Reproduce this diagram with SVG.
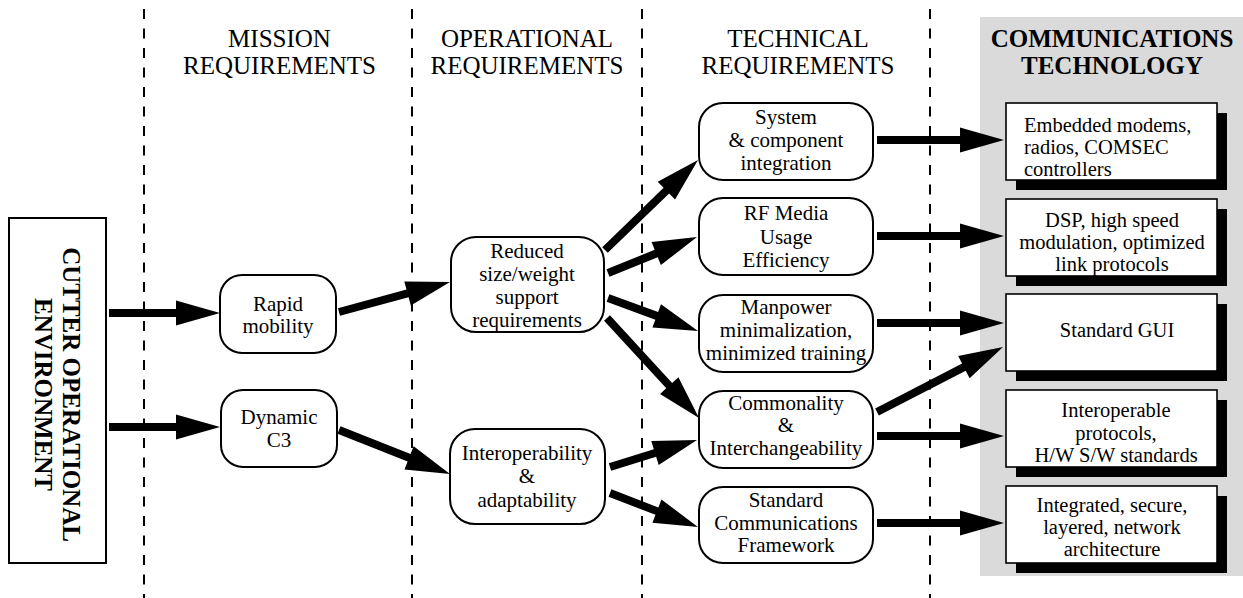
<svg xmlns="http://www.w3.org/2000/svg" width="1243" height="598" viewBox="0 0 1243 598">
<style>
text{font-family:"Liberation Serif","Times New Roman",serif;fill:#000}
.h{font-size:25px;text-anchor:middle}
.hb{font-size:25px;font-weight:bold;text-anchor:middle}
.t{font-size:21px;text-anchor:middle}
.tl{font-size:20.5px}
.r{font-size:20.5px;text-anchor:middle}
.node{fill:#fff;stroke:#000;stroke-width:2}
.box{fill:#fff;stroke:#000;stroke-width:1.6}
.sh{fill:#000}
.dash{stroke:#000;stroke-width:2;stroke-dasharray:10 9.5;fill:none}
.arr{fill:#000}
</style>
<rect id="panel" x="980" y="17" width="263" height="559" fill="#dadada"/>
<g id="dividers">
<line class="dash" x1="144" y1="9" x2="144" y2="598"/>
<line class="dash" x1="412" y1="9" x2="412" y2="598"/>
<line class="dash" x1="642" y1="9" x2="642" y2="598"/>
<line class="dash" x1="930" y1="9" x2="930" y2="598"/>
</g>
<g id="headers">
<text class="h" x="279.5" y="47">MISSION</text>
<text class="h" x="279.5" y="74">REQUIREMENTS</text>
<text class="h" x="527" y="47">OPERATIONAL</text>
<text class="h" x="527" y="74">REQUIREMENTS</text>
<text class="h" x="798" y="47">TECHNICAL</text>
<text class="h" x="798" y="74">REQUIREMENTS</text>
<text class="hb" x="1112" y="47">COMMUNICATIONS</text>
<text class="hb" x="1112" y="74">TECHNOLOGY</text>
</g>
<g id="connectors">
<path class="arr" transform="translate(109 313)" d="M0 -4H67V-12.5L111 0L67 12.5V4H0Z"/>
<path class="arr" transform="translate(109 427)" d="M0 -4H67V-12.5L111 0L67 12.5V4H0Z"/>
<path class="arr" transform="translate(339 312) rotate(-15.12)" d="M0 -4H71V-12.5L115 0L71 12.5V4H0Z"/>
<path class="arr" transform="translate(339 430) rotate(21.63)" d="M0 -4H75.4V-12.5L119.4 0L75.4 12.5V4H0Z"/>
<path class="arr" transform="translate(605 250) rotate(-44.06)" d="M0 -4H85.4V-12.5L129.4 0L85.4 12.5V4H0Z"/>
<path class="arr" transform="translate(608 273) rotate(-22.02)" d="M0 -4H52V-12.5L96 0L52 12.5V4H0Z"/>
<path class="arr" transform="translate(608 298) rotate(20.14)" d="M0 -4H51.9V-12.5L95.9 0L51.9 12.5V4H0Z"/>
<path class="arr" transform="translate(607 318) rotate(47.39)" d="M0 -4H91.9V-12.5L135.9 0L91.9 12.5V4H0Z"/>
<path class="arr" transform="translate(610 467) rotate(-17.24)" d="M0 -4H47.1V-12.5L91.1 0L47.1 12.5V4H0Z"/>
<path class="arr" transform="translate(610 493) rotate(21.13)" d="M0 -4H50.3V-12.5L94.3 0L50.3 12.5V4H0Z"/>
<path class="arr" transform="translate(877 140)" d="M0 -4H83V-12.5L127 0L83 12.5V4H0Z"/>
<path class="arr" transform="translate(877 236)" d="M0 -4H83V-12.5L127 0L83 12.5V4H0Z"/>
<path class="arr" transform="translate(877 323)" d="M0 -4H83V-12.5L127 0L83 12.5V4H0Z"/>
<path class="arr" transform="translate(877 412) rotate(-27.29)" d="M0 -4H97.8V-12.5L141.8 0L97.8 12.5V4H0Z"/>
<path class="arr" transform="translate(877 436)" d="M0 -4H83V-12.5L127 0L83 12.5V4H0Z"/>
<path class="arr" transform="translate(877 523)" d="M0 -4H83V-12.5L127 0L83 12.5V4H0Z"/>
</g>
<g id="cutter">
<rect x="9" y="218" width="97" height="345" fill="#fff" stroke="#000" stroke-width="2"/>
<g transform="translate(57.5 394.5) rotate(90)">
<text class="hb" x="0" y="-5.5">CUTTER OPERATIONAL</text>
<text class="hb" x="0" y="22.5">ENVIRONMENT</text>
</g>
</g>
<g id="rapid">
<rect class="node" x="220" y="275" width="116" height="78" rx="22"/>
<text class="t" x="278" y="311">Rapid</text>
<text class="t" x="278" y="333">mobility</text>
</g>
<g id="dynamic">
<rect class="node" x="221" y="390" width="116" height="77" rx="22"/>
<text class="t" x="279" y="424">Dynamic</text>
<text class="t" x="279" y="447">C3</text>
</g>
<g id="reduced">
<rect class="node" x="451" y="237" width="153" height="95" rx="25"/>
<text class="t" x="527" y="258">Reduced</text>
<text class="t" x="527" y="281">size/weight</text>
<text class="t" x="527" y="304">support</text>
<text class="t" x="527" y="327">requirements</text>
</g>
<g id="interop">
<rect class="node" x="450" y="429" width="155" height="95" rx="25"/>
<text class="t" x="527" y="460">Interoperability</text>
<text class="t" x="527" y="483">&amp;</text>
<text class="t" x="527" y="507">adaptability</text>
</g>
<g id="system">
<rect class="node" x="699" y="103" width="174" height="77" rx="24"/>
<text class="t" x="786" y="124">System</text>
<text class="t" x="786" y="147">&amp; component</text>
<text class="t" x="786" y="170">integration</text>
</g>
<g id="rf">
<rect class="node" x="699" y="198" width="174" height="77" rx="24"/>
<text class="t" x="786" y="220">RF Media</text>
<text class="t" x="786" y="243.5">Usage</text>
<text class="t" x="786" y="267">Efficiency</text>
</g>
<g id="manpower">
<rect class="node" x="699" y="295" width="174" height="77" rx="24"/>
<text class="t" x="786" y="314">Manpower</text>
<text class="t" x="786" y="337">minimalization,</text>
<text class="t" x="786" y="360">minimized training</text>
</g>
<g id="commonality">
<rect class="node" x="699" y="391" width="174" height="77" rx="24"/>
<text class="t" x="786" y="409.5">Commonality</text>
<text class="t" x="786" y="432">&amp;</text>
<text class="t" x="786" y="455">Interchangeability</text>
</g>
<g id="framework">
<rect class="node" x="699" y="487" width="174" height="76" rx="24"/>
<text class="t" x="786" y="507">Standard</text>
<text class="t" x="786" y="530">Communications</text>
<text class="t" x="786" y="552">Framework</text>
</g>
<g id="tech1">
<rect class="sh" x="1016" y="113" width="211" height="77"/>
<rect class="box" x="1006" y="103" width="211" height="77"/>
<text class="tl" x="1024" y="132">Embedded modems,</text>
<text class="tl" x="1024" y="154">radios, COMSEC</text>
<text class="tl" x="1024" y="176">controllers</text>
</g>
<g id="tech2">
<rect class="sh" x="1016" y="209" width="211" height="77"/>
<rect class="box" x="1006" y="199" width="211" height="77"/>
<text class="r" x="1112" y="227">DSP, high speed</text>
<text class="r" x="1112" y="249">modulation, optimized</text>
<text class="r" x="1112" y="271">link protocols</text>
</g>
<g id="tech3">
<rect class="sh" x="1016" y="304" width="211" height="77"/>
<rect class="box" x="1006" y="294" width="211" height="77"/>
<text class="r" x="1117" y="337">Standard GUI</text>
</g>
<g id="tech4">
<rect class="sh" x="1016" y="400" width="211" height="77"/>
<rect class="box" x="1006" y="390" width="211" height="77"/>
<text class="r" x="1116" y="417">Interoperable</text>
<text class="r" x="1116" y="440">protocols,</text>
<text class="r" x="1116" y="462">H/W S/W standards</text>
</g>
<g id="tech5">
<rect class="sh" x="1016" y="496" width="211" height="77"/>
<rect class="box" x="1006" y="486" width="211" height="77"/>
<text class="r" x="1112" y="512">Integrated, secure,</text>
<text class="r" x="1112" y="534">layered, network</text>
<text class="r" x="1112" y="556">architecture</text>
</g>
</svg>
